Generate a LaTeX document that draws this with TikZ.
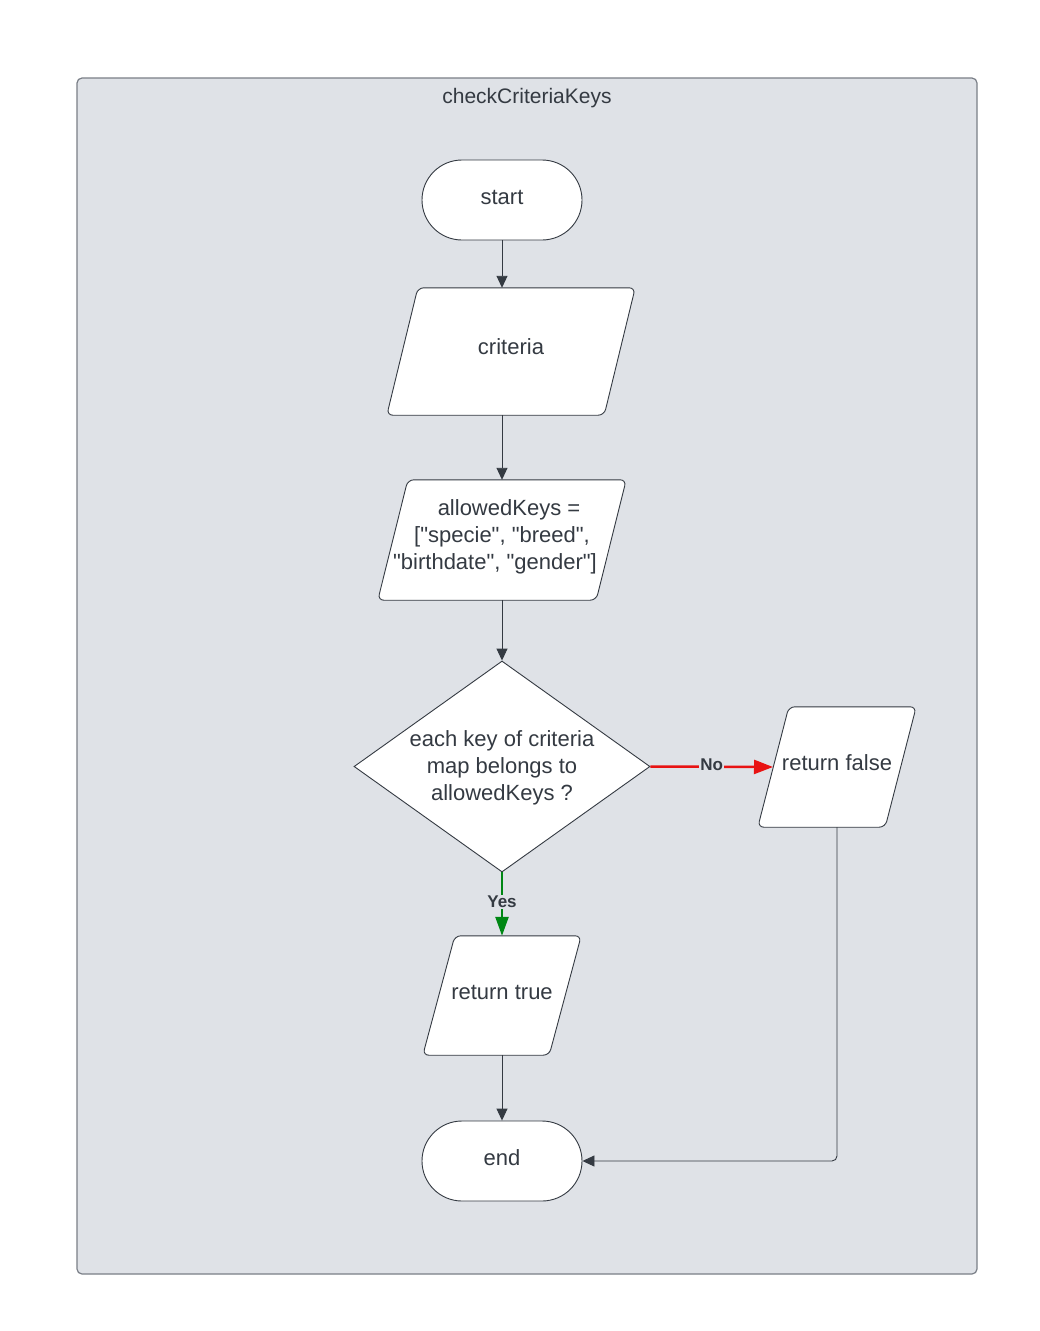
\documentclass[tikz,border=0pt]{standalone}
\usepackage{fontspec}
\setmainfont{Liberation Sans}
% same face without the TeX ligature mapping, so straight quotes stay straight
\newfontfamily\plainsans{Liberation Sans}
\usetikzlibrary{shapes.geometric,arrows.meta,calc}
\definecolor{panel}{RGB}{223,226,231}
\definecolor{frame}{RGB}{122,127,135}
\definecolor{ink}{RGB}{52,58,66}
\definecolor{noline}{RGB}{232,19,19}
\definecolor{yesline}{RGB}{0,135,20}
\pgfdeclarelayer{panellayer}
\pgfdeclarelayer{shapelayer}
\pgfsetlayers{panellayer,shapelayer,main}
% parallelogram outline around an empty box node: #1 node name, #2 slant
\newcommand\paraoutline[2]{%
  \begin{pgfonlayer}{shapelayer}
    \draw[outline] (#1.south west) -- ($(#1.north west)+(#2,0)$) -- (#1.north east)
      -- ($(#1.south east)-(#2,0)$) -- cycle;
  \end{pgfonlayer}}
\begin{document}
\begin{tikzpicture}[x=1pt,y=-1pt,
  every node/.style={text=ink, font=\fontsize{22}{27}\selectfont},
  outline/.style={draw=ink, fill=white, line width=0.9pt, rounded corners=6pt},
  base/.style={draw=ink, fill=white, line width=0.9pt, inner sep=0pt},
  terminal/.style={base, rectangle, rounded corners=40pt, minimum width=160pt, minimum height=80pt},
  boxarea/.style={rectangle, draw=none, inner sep=0pt},
  decision/.style={base, diamond, aspect=1.4, minimum width=296pt, minimum height=211pt},
  txt/.style={align=center, inner sep=0pt},
  flow/.style={draw=ink, line width=0.9pt, -{Triangle[length=12pt,width=11pt]}},
  lbl/.style={font=\fontsize{17}{20}\selectfont\bfseries, text=ink, fill=panel, inner sep=1pt, yshift=2pt}
]
\useasboundingbox (0,0) rectangle (1040,1331);
\begin{pgfonlayer}{panellayer}
  \fill[white] (0,0) rectangle (1040,1331);
  % swimlane frame
  \draw[rounded corners=5pt, fill=panel, draw=frame, line width=1.2pt] (77,78) rectangle (977,1274);
\end{pgfonlayer}
\node[font=\fontsize{21}{25}\selectfont] (title) at (527,98) {checkCriteriaKeys};

% flow shapes
\node[terminal] (start) at (502,200) {};
\node[boxarea, minimum width=248pt, minimum height=127pt] (crit) at (511,351.5) {};
\node[boxarea, minimum width=248pt, minimum height=120pt] (keys) at (502,540) {};
\node[decision] (check) at (502,766.5) {};
\node[boxarea, minimum width=158pt, minimum height=120pt] (rfalse) at (837,767) {};
\node[boxarea, minimum width=158pt, minimum height=119pt] (rtrue) at (502,995.5) {};
\node[terminal] (end) at (502,1161) {};
\paraoutline{crit}{31}
\paraoutline{keys}{30}
\paraoutline{rfalse}{31}
\paraoutline{rtrue}{32}

% texts
\node[txt] (starttext) at (502,197) {start};
\node[txt] (crittext) at (511,347) {criteria};
\node[txt, font=\plainsans\fontsize{22}{27}\selectfont] (keystext) at (502,537)
  {\hspace*{14pt}allowedKeys =\\{}["specie", "breed",\\"birthdate", "gender"]\hspace*{14pt}};
\node[txt] (checktext) at (502,768) {each key of criteria\\map belongs to\\allowedKeys ?};
\node[txt] (rfalsetext) at (837,763) {return false};
\node[txt] (rtruetext) at (502,992) {return true};
\node[txt] (endtext) at (502,1158) {end};

% connectors
\draw[flow] (start.south) -- (start.south |- crit.north);
\draw[flow] (start.south |- crit.south) -- (keys.north);
\draw[flow] (keys.south) -- (check.north);
\coordinate (rfalsein) at (773,767);
\draw[flow, draw=noline, line width=2.5pt, -{Triangle[length=19pt,width=14pt,fill=noline]}]
  (check.east) -- node[lbl] {No} (rfalsein);
\draw[flow, draw=yesline, line width=2.5pt, -{Triangle[length=19pt,width=13pt,fill=yesline]}]
  (check.south) -- node[lbl] {Yes} (rtrue.north);
\draw[flow] (rtrue.south) -- (end.north);
\draw[flow, rounded corners=5pt] (rfalse.south) |- (end.east);
\end{tikzpicture}
\end{document}
